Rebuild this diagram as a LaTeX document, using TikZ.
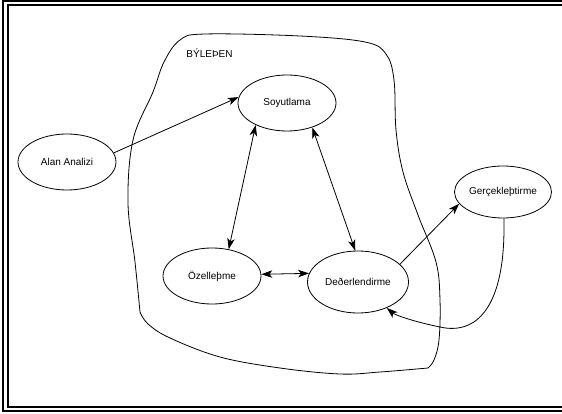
\documentclass[tikz,border=0pt]{standalone}
\usepackage{fontspec}
\setmainfont{Liberation Sans}
\usetikzlibrary{shapes.geometric,arrows.meta}
\begin{document}
\begin{tikzpicture}[x=1pt,y=-1pt,
  proc/.style={draw,ellipse,line width=0.8pt,inner sep=0pt,font=\fontsize{10}{12}\selectfont},
  conn/.style={line width=0.8pt},
  tipend/.style={-{Stealth[length=11pt,width=7.5pt,inset=3pt]}},
  tipboth/.style={{Stealth[length=11pt,width=7.5pt,inset=3pt]}-{Stealth[length=11pt,width=7.5pt,inset=3pt]}},
  blob/.style={line width=0.8pt}]
\useasboundingbox (0,0) rectangle (562,414);
\begin{scope}
\clip (0,0) rectangle (562,414);
\draw[line width=2.5pt] (3,0.8) rectangle (600,411);
\draw[line width=2pt] (8,5.5) rectangle (600,407);
\end{scope}
% component boundary
\draw[blob] plot[smooth,tension=0.6] coordinates {(140,312) (135,262) (128,203) (133,140) (153,92) (164,62) (180,40) (205,34) (300,36) (365,42) (386,54) (394,80) (396,130) (403,172) (418,215) (436,262) (440,300) (439,340) (434,360) (428,368)};
\draw[blob] plot[smooth,tension=0.6] coordinates {(428,368) (380,372) (340,374) (280,368) (220,357) (170,338) (148,324) (140,312)};
\node[font=\fontsize{10}{12}\selectfont] (lbl) at (209.5,53) {BÝLEÞEN};
% processes
\node[proc,minimum width=98pt,minimum height=56pt] (soy) at (287,103) {\raisebox{-4pt}{Soyutlama}};
\node[proc,minimum width=98pt,minimum height=56pt] (ana) at (67,162) {Alan Analizi};
\node[proc,minimum width=98pt,minimum height=56pt] (oz) at (212,276) {Özelleþme};
\node[proc,minimum width=101pt,minimum height=62pt] (deg) at (358,282) {\raisebox{-2pt}{Deðerlendirme}};
\node[proc,minimum width=97pt,minimum height=52pt] (ger) at (503,192) {Gerçekleþtirme};
% connectors
\draw[conn,tipend] (ana.11) -- (soy.173);
\draw[conn,tipboth] (soy.215) -- (oz.58);
\draw[conn,tipboth] (soy.316) -- (deg.95);
\draw[conn,tipboth] (oz.2) -- (deg.170);
\draw[conn,tipend] (deg.23) -- (ger.195);
\draw[conn,tipend] (ger.272) .. controls (506,310) and (475,335) .. (440,327) .. controls (415,322) and (395,315) .. (deg.-42);
\end{tikzpicture}
\end{document}
